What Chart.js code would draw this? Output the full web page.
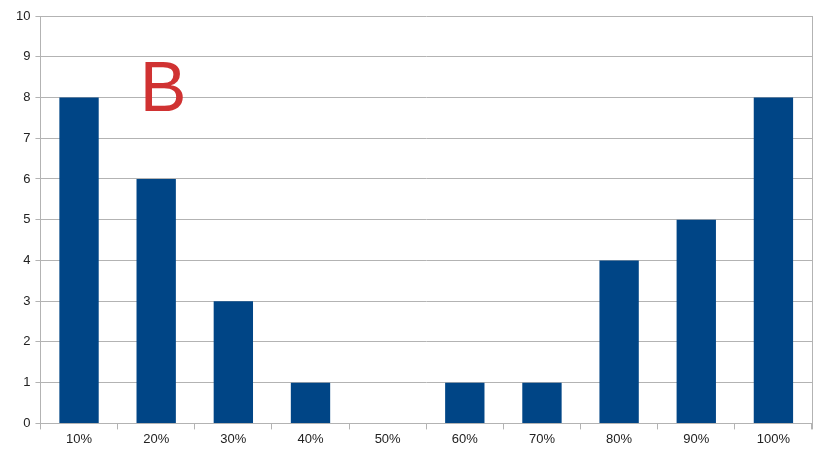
<!DOCTYPE html>
<html><head><meta charset="utf-8">
<script src="https://cdn.jsdelivr.net/npm/chart.js@4"></script>
<style>html,body{margin:0;padding:0;background:#fff}#w{width:828px;height:456px}</style>
</head><body><div id="w"><canvas id="c"></canvas></div>
<script>
const categories = ['10%','20%','30%','40%','50%','60%','70%','80%','90%','100%'];
const counts = [8,6,3,1,0,1,1,4,5,8];
const yTicks = [0,1,2,3,4,5,6,7,8,9,10];
const panelLabel = 'B';

const deco = {
  id:'deco',
  afterDraw(chart){
    const {ctx, chartArea:a} = chart;
    ctx.save();
    ctx.strokeStyle = '#b3b3b3'; ctx.lineWidth = 1;
    ctx.beginPath();
    const rx = Math.round(a.right)+0.5;
    ctx.moveTo(rx, a.top); ctx.lineTo(rx, a.bottom+6); ctx.stroke();
    ctx.fillStyle = '#d03232';
    ctx.font = '70px "Liberation Sans", Arial, sans-serif';
    ctx.textAlign = 'center'; ctx.textBaseline = 'alphabetic';
    ctx.fillText(panelLabel, a.left + (a.right-a.left)*0.159, a.top + (a.bottom-a.top)*0.232);
    ctx.restore();
  }
};

new Chart(document.getElementById('c'), {
  type:'bar',
  data:{labels:categories, datasets:[{data:counts, backgroundColor:'#004586', barPercentage:0.51, categoryPercentage:1}]},
  options:{
    responsive:true, maintainAspectRatio:false, animation:false,
    layout:{padding:{top:16, right:16, left:11, bottom:7}},
    plugins:{legend:{display:false}, tooltip:{enabled:false}},
    scales:{
      x:{
        offset:true,
        grid:{display:true, drawOnChartArea:false, drawTicks:true, tickLength:6, color:'#b3b3b3', offset:true},
        border:{color:'#b3b3b3'},
        ticks:{color:'#222', font:{family:'"Liberation Sans", Arial, sans-serif', size:13}, padding:2}
      },
      y:{
        min:0, max:10,
        afterBuildTicks(s){ s.ticks = yTicks.map(v=>({value:v})); },
        grid:{color:'#b3b3b3', tickLength:5},
        border:{color:'#b3b3b3'},
        ticks:{color:'#222', font:{family:'"Liberation Sans", Arial, sans-serif', size:13}, padding:5}
      }
    }
  },
  plugins:[deco]
});
</script></body></html>
